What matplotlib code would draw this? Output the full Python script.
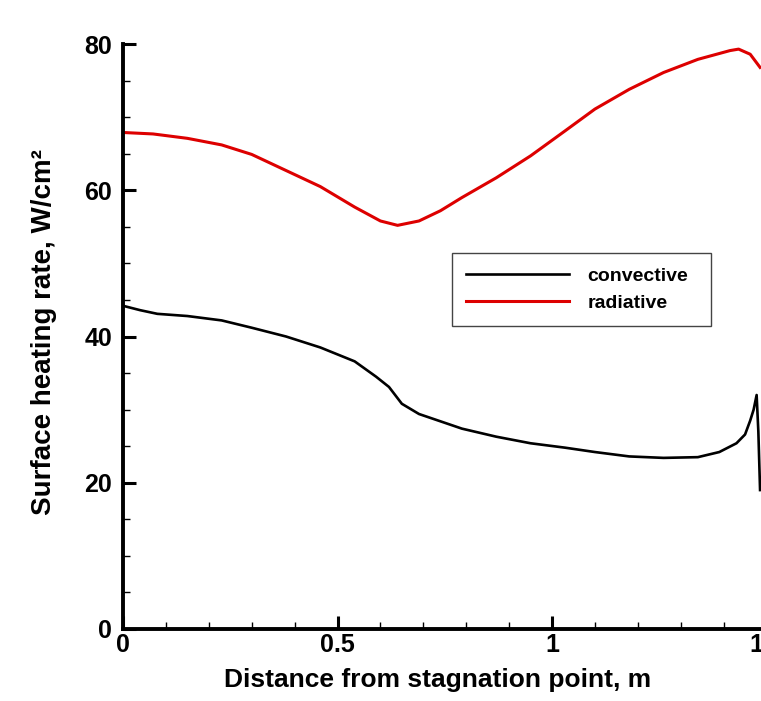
import matplotlib.pyplot as plt
from matplotlib.ticker import MultipleLocator

# convective heating along the body
dist_conv = [0.0, 0.04, 0.08, 0.15, 0.23, 0.30, 0.38, 0.46, 0.54, 0.59, 0.62, 0.65,
             0.69, 0.74, 0.79, 0.87, 0.95, 1.03, 1.10, 1.18, 1.26, 1.34, 1.39, 1.43,
             1.45, 1.462, 1.47, 1.477, 1.481, 1.485]
q_conv = [44.2, 43.6, 43.1, 42.8, 42.2, 41.2, 40.0, 38.5, 36.6, 34.5, 33.1, 30.8,
          29.4, 28.4, 27.4, 26.3, 25.4, 24.8, 24.2, 23.6, 23.4, 23.5, 24.2, 25.4,
          26.6, 28.5, 30.0, 32.0, 27.0, 19.0]

# radiative heating
dist_rad = [0.0, 0.07, 0.15, 0.23, 0.30, 0.38, 0.46, 0.54, 0.60, 0.64, 0.69, 0.74,
            0.79, 0.87, 0.95, 1.03, 1.10, 1.18, 1.26, 1.34, 1.415, 1.435, 1.462, 1.485]
q_rad = [67.9, 67.7, 67.1, 66.2, 64.9, 62.7, 60.5, 57.7, 55.8, 55.2, 55.8, 57.2,
         59.0, 61.7, 64.7, 68.1, 71.1, 73.8, 76.1, 77.9, 79.1, 79.3, 78.6, 76.8]

plt.rcParams['font.family'] = ['Liberation Sans', 'DejaVu Sans']
plt.rcParams['font.weight'] = 'bold'

fig = plt.figure(figsize=(7.61, 7.01), dpi=100)
# axes runs past the right edge of the picture, like the original
ax = fig.add_axes([123 / 761, 72 / 701, 643.5 / 761, 585 / 701])

ax.plot(dist_conv, q_conv, color='black', lw=1.9, label='convective')
ax.plot(dist_rad, q_rad, color='#dd0000', lw=2.2, label='radiative')

ax.set_xlim(0, 1.5)
ax.set_ylim(0, 80)
ax.xaxis.set_major_locator(MultipleLocator(0.5))
ax.xaxis.set_minor_locator(MultipleLocator(0.1))
ax.yaxis.set_major_locator(MultipleLocator(20))
ax.yaxis.set_minor_locator(MultipleLocator(5))
ax.xaxis.set_major_formatter(plt.FuncFormatter(lambda v, p: '%g' % v))

for s in ['top', 'right']:
    ax.spines[s].set_visible(False)
for s in ['left', 'bottom']:
    ax.spines[s].set_linewidth(2.8)

ax.tick_params(which='major', direction='in', length=9.5, width=2.2, labelsize=18)
ax.tick_params(which='minor', direction='in', length=5, width=1.0)
ax.tick_params(axis='y', which='major', pad=8)
ax.tick_params(axis='x', which='major', pad=3)
for lab in ax.get_xticklabels() + ax.get_yticklabels():
    lab.set_fontweight('bold')

ax.set_xlabel('Distance from stagnation point, m', fontsize=19, fontweight='bold')
ax.xaxis.set_label_coords(0.4895, -0.066)
ax.set_ylabel('Surface heating rate, W/cm²', fontsize=20, fontweight='bold')
ax.yaxis.set_label_coords(-0.103, 0.507)

leg = ax.legend(loc='lower left', bbox_to_anchor=(452 / 761, 375 / 701, 259 / 761, 75 / 701),
                bbox_transform=fig.transFigure, mode='expand', fontsize=14,
                handlelength=5.3, handletextpad=0.95, borderpad=0.72, labelspacing=0.5,
                fancybox=False, framealpha=1, borderaxespad=0)
leg.get_frame().set_edgecolor('#444444')
leg.get_frame().set_linewidth(1.0)
for t in leg.get_texts():
    t.set_fontweight('bold')

fig.savefig('out.png', dpi=100)
